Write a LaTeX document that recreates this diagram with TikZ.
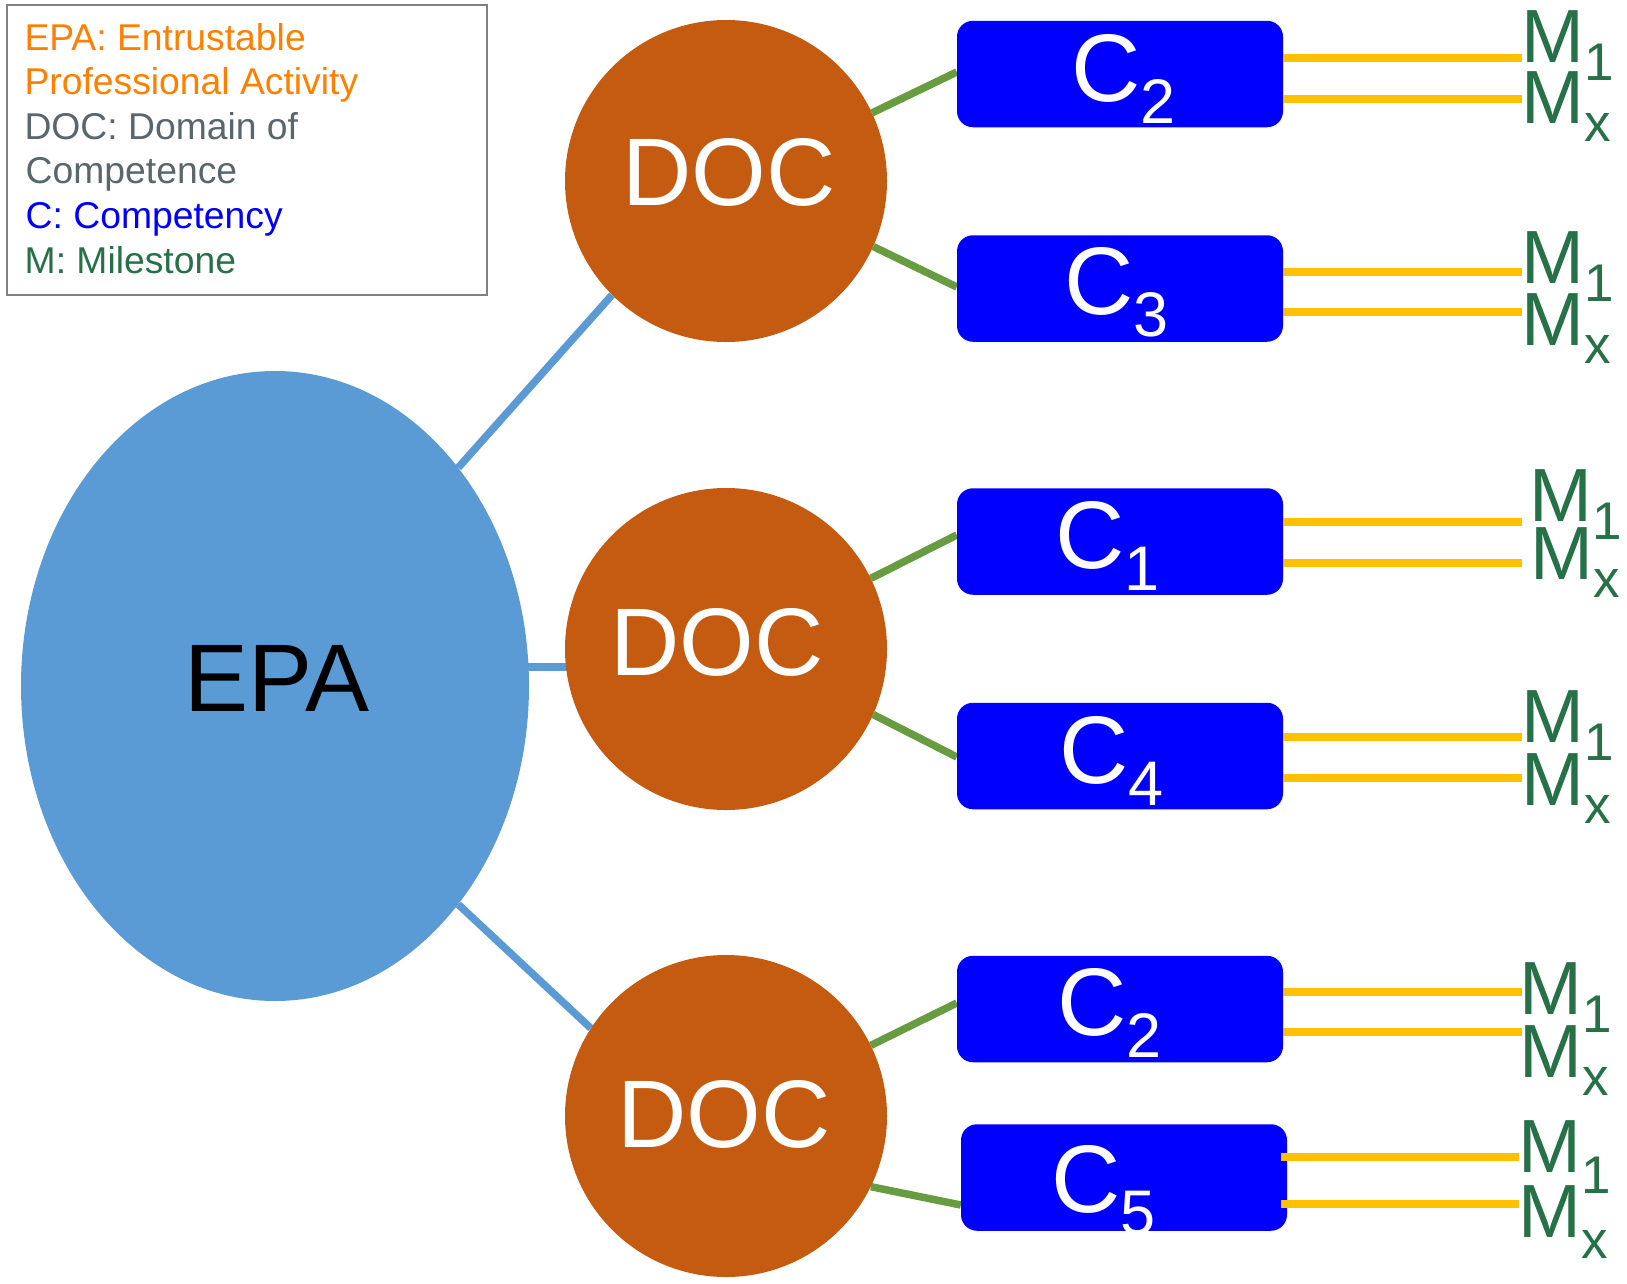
\documentclass[tikz,border=0pt]{standalone}
\usepackage{fontspec}
\setmainfont{Liberation Sans}
\usetikzlibrary{shapes.geometric,backgrounds,calc}
\definecolor{epablue}{RGB}{91,155,213}
\definecolor{docorange}{RGB}{197,90,17}
\definecolor{cblue}{RGB}{0,0,255}
\definecolor{myellow}{RGB}{255,192,0}
\definecolor{lgreen}{RGB}{103,157,64}
\definecolor{mgreen}{RGB}{38,113,72}
\definecolor{legorange}{RGB}{255,127,0}
\definecolor{leggray}{RGB}{89,102,107}
\definecolor{legborder}{RGB}{128,128,128}
\newcommand{\mysub}[3]{\raisebox{-#2pt}{\fontsize{#1}{#1}\selectfont #3}}
\begin{document}
\begin{tikzpicture}[x=1pt,y=-1pt,
  docnode/.style={circle, fill=docorange, minimum size=322pt, inner sep=0pt},
  cbox/.style={rectangle, rounded corners=16pt, fill=cblue, minimum width=326pt, minimum height=106.5pt, inner sep=0pt},
  bigtext/.style={anchor=base, inner sep=0pt, font=\fontsize{96}{96}\selectfont},
  ctext/.style={anchor=base west, inner sep=0pt, text=white, font=\fontsize{96}{96}\selectfont},
  mtext/.style={anchor=base west, inner sep=0pt, text=mgreen, font=\fontsize{75.4}{75.4}\selectfont},
  legtext/.style={anchor=base west, inner sep=0pt, font=\fontsize{37.3}{44}\selectfont},
  bluelink/.style={draw=epablue, line width=7.5pt},
  greenlink/.style={draw=lgreen, line width=7.5pt},
  mline/.style={draw=myellow, line width=8pt}
]
\useasboundingbox (0,0) rectangle (1627,1283);

% legend
\node[draw=legborder, line width=2pt, minimum width=480pt, minimum height=290pt, inner sep=0pt] (legend) at (246.5,149.5) {};
\node[legtext, text=legorange] (l1) at (24.3,50) {EPA: Entrustable};
\node[legtext, text=legorange] (l2) at (24.3,94.3) {Professional Activity};
\node[legtext, text=leggray] (l3) at (24.3,139.3) {DOC: Domain of};
\node[legtext, text=leggray] (l4) at (25.5,183.3) {Competence};
\node[legtext, text=cblue] (l5) at (25.5,228.3) {C: Competency};
\node[legtext, text=mgreen] (l6) at (24.5,273.3) {M: Milestone};

% main shapes
\node[ellipse, fill=epablue, minimum width=508pt, minimum height=630pt, inner sep=0pt] (epa) at (275,686) {};
\node[bigtext, text=black] (epat) at (277,711) {EPA};

\node[docnode] (doc1) at (726,181) {};
\node[docnode] (doc2) at (726,649) {};
\node[docnode] (doc3) at (726,1116) {};
\node[bigtext, text=white] (doc1t) at (729,205) {DOC};
\node[bigtext, text=white] (doc2t) at (717,675) {DOC};
\node[bigtext, text=white] (doc3t) at (724,1147) {DOC};

\node[cbox] (c2t) at (1120,74) {};
\node[cbox] (c3) at (1120,288.5) {};
\node[cbox] (c1) at (1120,541.5) {};
\node[cbox] (c4) at (1120,756) {};
\node[cbox] (c2b) at (1120,1009) {};
\node[cbox] (c5) at (1124,1177.5) {};

\node[ctext] (c2tt) at (1071,101) {C\mysub{63}{22.5}{2}};
\node[ctext] (c3t) at (1064,314) {C\mysub{63}{22.5}{3}};
\node[ctext] (c1t) at (1055,568) {C\mysub{63}{22.5}{1}};
\node[ctext] (c4t) at (1059,783) {C\mysub{63}{22.5}{4}};
\node[ctext] (c2bt) at (1057,1035) {C\mysub{63}{22.5}{2}};
\begin{scope}
\clip (c5.south west) rectangle (c5.north east);
\node[ctext] (c5t) at (1051,1212) {C\mysub{63}{22.5}{5}};
\end{scope}

% connectors behind shapes
\begin{pgfonlayer}{background}
\draw[bluelink] (epa.50.7) -- (doc1.225.5);
\draw[bluelink] ($(epa.east |- 0,667)+(-6,0)$) -- ($(doc2.west |- 0,667)+(6,0)$);
\draw[bluelink] (epa.-50.8) -- (doc3.147.8);
\draw[greenlink] (doc1.25) -- (c2t.west |- 0,72);
\draw[greenlink] (doc1.-24.6) -- (c3.west |- 0,287);
\draw[greenlink] (doc2.26.6) -- (c1.west |- 0,535);
\draw[greenlink] (doc2.-24.6) -- (c4.west |- 0,757);
\draw[greenlink] (doc3.26.2) -- (c2b.west |- 0,1003);
\draw[greenlink] (doc3.-26.6) -- (c5.west |- 0,1205);
\end{pgfonlayer}

% milestone lines
\coordinate (e1a) at (1522,58);   \coordinate (e1b) at (1522,99);
\coordinate (e2a) at (1522,272);  \coordinate (e2b) at (1522,312);
\coordinate (e3a) at (1522,522);  \coordinate (e3b) at (1522,563);
\coordinate (e4a) at (1522,737);  \coordinate (e4b) at (1522,778);
\coordinate (e5a) at (1522,992);  \coordinate (e5b) at (1522,1032);
\coordinate (e6a) at (1519,1157); \coordinate (e6b) at (1519,1204);
\draw[mline] (c2t.east |- e1a) -- (e1a);
\draw[mline] (c2t.east |- e1b) -- (e1b);
\draw[mline] (c3.east |- e2a) -- (e2a);
\draw[mline] (c3.east |- e2b) -- (e2b);
\draw[mline] (c1.east |- e3a) -- (e3a);
\draw[mline] (c1.east |- e3b) -- (e3b);
\draw[mline] (c4.east |- e4a) -- (e4a);
\draw[mline] (c4.east |- e4b) -- (e4b);
\draw[mline] (c2b.east |- e5a) -- (e5a);
\draw[mline] (c2b.east |- e5b) -- (e5b);
\draw[mline] ($(c5.east |- e6a)+(-6,0)$) -- (e6a);
\draw[mline] ($(c5.east |- e6b)+(-6,0)$) -- (e6b);

% milestone labels
\node[mtext] (m1a) at (1521,62) {M\mysub{53}{18.5}{1}};
\node[mtext] (m1b) at (1521,123) {M\mysub{53}{18.5}{x}};
\node[mtext] (m2a) at (1521,283) {M\mysub{53}{18.5}{1}};
\node[mtext] (m2b) at (1521,345) {M\mysub{53}{18.5}{x}};
\node[mtext] (m3a) at (1529,521) {M\mysub{53}{18.5}{1}};
\node[mtext] (m3b) at (1530,579) {M\mysub{53}{18.5}{x}};
\node[mtext] (m4a) at (1521,742) {M\mysub{53}{18.5}{1}};
\node[mtext] (m4b) at (1521,805) {M\mysub{53}{18.5}{x}};
\node[mtext] (m5a) at (1519,1014) {M\mysub{53}{18.5}{1}};
\node[mtext] (m5b) at (1519,1077) {M\mysub{53}{18.5}{x}};
\node[mtext] (m6a) at (1518,1172) {M\mysub{53}{21}{1}};
\node[mtext] (m6b) at (1518,1237) {M\mysub{53}{21}{x}};
\end{tikzpicture}
\end{document}
